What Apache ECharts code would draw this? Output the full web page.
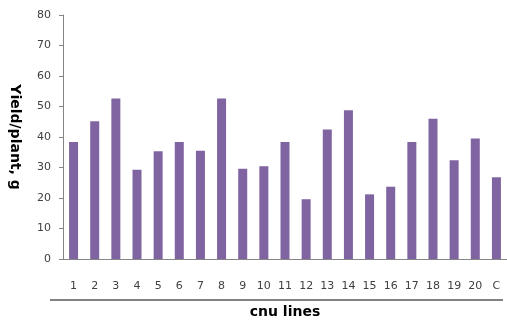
<!DOCTYPE html>
<html><head><meta charset="utf-8">
<script src="https://cdn.jsdelivr.net/npm/echarts@6/dist/echarts.min.js"></script>
<style>html,body{margin:0;padding:0;background:#fff}#c{width:507px;height:324px}</style>
</head><body><div id="c"></div>
<script>
const categories = ['1','2','3','4','5','6','7','8','9','10','11','12','13','14','15','16','17','18','19','20','C'];
const yieldValues = [38.4, 45.2, 52.6, 29.3, 35.3, 38.4, 35.5, 52.6, 29.6, 30.4, 38.4, 19.6, 42.5, 48.8, 21.2, 23.7, 38.4, 46.0, 32.4, 39.5, 26.8];
const yTicks = [0, 80, 10];

const chart = echarts.init(document.getElementById('c'), null, {renderer: 'canvas'});
chart.setOption({
  animation: false,
  grid: {left: 62, right: -4, top: 15, bottom: 65, containLabel: false},
  xAxis: {
    type: 'category', data: categories,
    axisLine: {lineStyle: {color: '#868686', width: 1}},
    axisTick: {show: false},
    axisLabel: {color: '#404040', fontFamily: 'DejaVu Sans', fontSize: 11, margin: 22},
    name: 'cnu lines', nameLocation: 'middle', nameGap: 46,
    nameTextStyle: {color: '#000', fontFamily: 'DejaVu Sans', fontWeight: 'bold', fontSize: 14}
  },
  yAxis: {
    type: 'value', min: yTicks[0], max: yTicks[1], interval: yTicks[2],
    axisLine: {show: true, lineStyle: {color: '#868686', width: 1}},
    axisTick: {show: true, length: 4, lineStyle: {color: '#868686'}},
    splitLine: {show: false},
    axisLabel: {color: '#404040', fontFamily: 'DejaVu Sans', fontSize: 11, margin: 12},
    name: 'Yield/plant, g', nameLocation: 'middle', nameGap: 41, nameRotate: 270,
    nameTextStyle: {color: '#000', fontFamily: 'DejaVu Sans', fontWeight: 'bold', fontSize: 14}
  },
  series: [{
    type: 'bar', data: yieldValues, barWidth: 9,
    itemStyle: {color: '#8064A2'}
  }],
  graphic: [{
    type: 'line', shape: {x1: 50, y1: 300, x2: 503, y2: 300},
    style: {stroke: '#595959', lineWidth: 1.5}
  }]
});
</script></body></html>
